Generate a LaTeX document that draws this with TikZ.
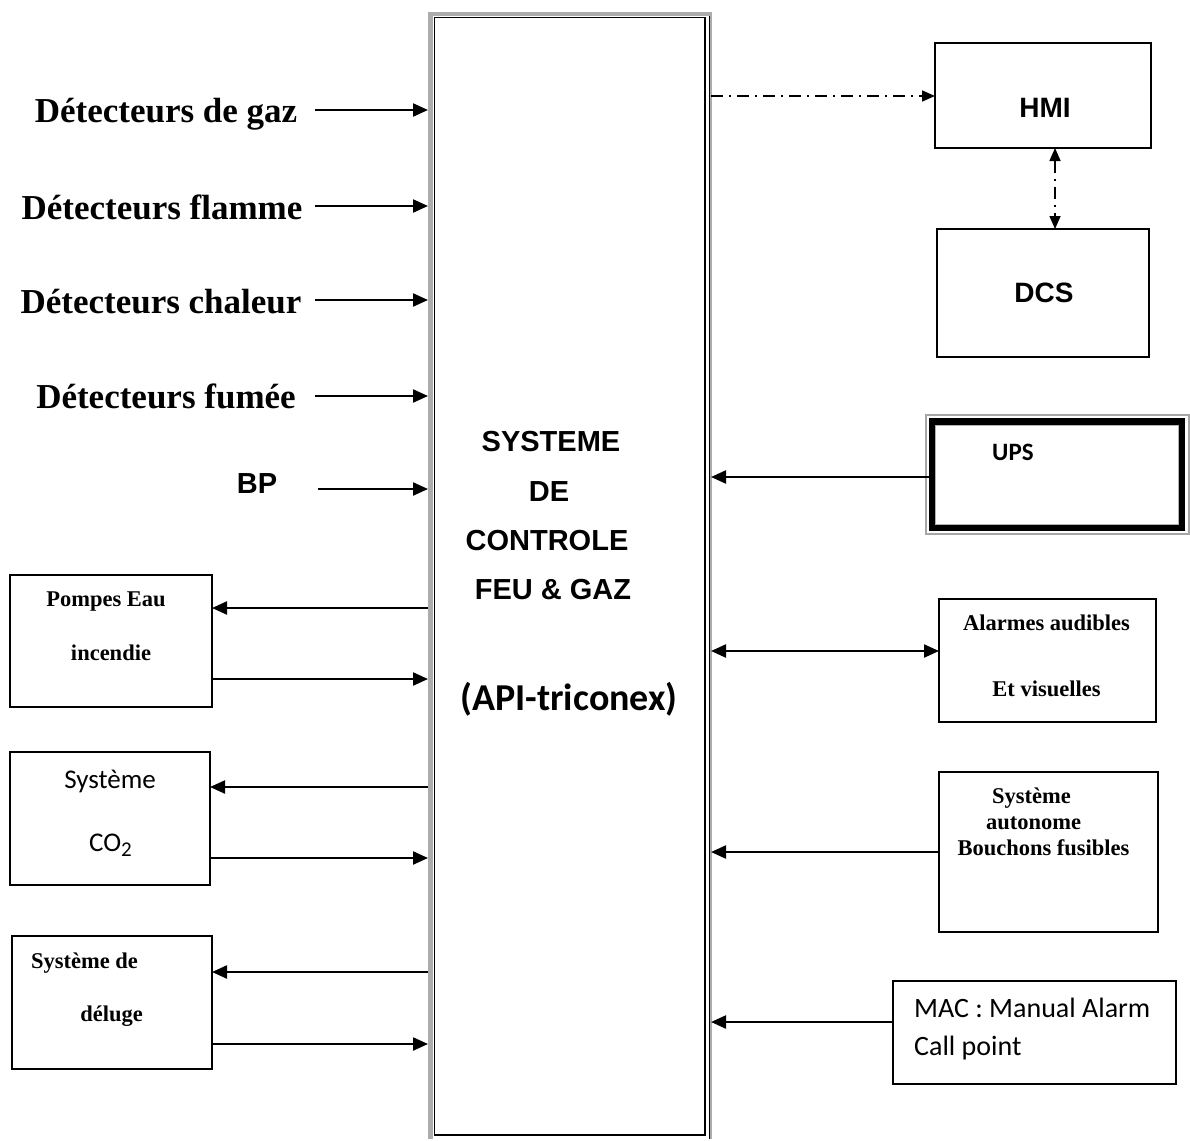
\documentclass[tikz,border=0pt]{standalone}
\usepackage{fontspec}
\setmainfont{Liberation Serif}
\newfontfamily\arialf{Liberation Sans}
\newfontfamily\calf{Carlito}
\usetikzlibrary{arrows.meta}
\begin{document}
\begin{tikzpicture}[x=1pt,y=-1pt,
  box/.style={draw=black,line width=2.2pt,anchor=north west,inner sep=0pt,outer sep=0pt},
  con/.style={line width=2.2pt,-{Triangle[length=15pt,width=13pt]}},
  dcon/.style={line width=2.2pt,{Triangle[length=15pt,width=13pt]}-{Triangle[length=15pt,width=13pt]}},
  dd/.style={line width=1.6pt,dash pattern=on 12pt off 6pt on 2pt off 6pt},
  det/.style={anchor=base,font=\bfseries\fontsize{35}{40}\selectfont},
  small/.style={anchor=base,font=\bfseries\fontsize{22.5}{26}\selectfont},
  ar/.style={anchor=base,font=\arialf\bfseries\fontsize{29}{32}\selectfont},
  cal/.style={anchor=base,font=\calf\fontsize{27}{30}\selectfont},
  txt/.style={inner sep=0pt}
]
\useasboundingbox (0,0) rectangle (1190,1140);
\fill[white] (0,0) rectangle (1190,1140);

% central controller
\node[anchor=north west,minimum width=283pt,minimum height=1127pt,inner sep=0pt,outer sep=0pt] (ctl) at (428,12) {};
\fill[gray!65] (ctl.north west) rectangle (433,1139);
\fill[gray!65] (ctl.north west) rectangle (712,16);
\fill[gray!65] (709,12) rectangle (712,1139);
\draw[line width=1.4pt] (434.5,17.5) rectangle (705,1135);
\draw[line width=1.4pt] (709.5,16) -- (709.5,1139);
\node[ar,txt] (t1) at (551,451) {SYSTEME};
\node[ar,txt] (t2) at (549,501) {DE};
\node[ar,txt] (t3) at (547,550) {CONTROLE};
\node[ar,txt] (t4) at (553,599) {FEU \& GAZ};
\node[txt,anchor=base,font=\calf\bfseries\fontsize{38}{42}\selectfont] (t5) at (569,710) {(API-triconex)};

% left detector labels
\node[det,txt] (d1) at (166,122) {Détecteurs de gaz};
\node[det,txt] (d2) at (162,219) {Détecteurs flamme};
\node[det,txt] (d3) at (161,313) {Détecteurs chaleur};
\node[det,txt] (d4) at (166,408) {Détecteurs fumée};
\node[ar,txt] (bp) at (257,493) {BP};
\coordinate (s1) at (315,110);
\coordinate (s2) at (315,206);
\coordinate (s3) at (315,300);
\coordinate (s4) at (315,396);
\coordinate (s5) at (318,489);
\foreach \s in {s1,s2,s3,s4,s5} \draw[con] (\s) -- (\s -| ctl.west);

% left boxes
\node[box,minimum width=202pt,minimum height=132pt] (pomp) at (10,575) {};
\node[small,txt] at (106,606) {Pompes Eau};
\node[small,txt] at (111,660) {incendie};
\node[box,minimum width=200pt,minimum height=133pt] (co2) at (10,752) {};
\node[cal,txt] at (110,788) {Système};
\node[cal,txt] at (110.5,851) {CO\raisebox{-5pt}{\fontsize{21}{22}\selectfont 2}};
\node[box,minimum width=200pt,minimum height=133pt] (delu) at (12,936) {};
\node[small,txt] at (84.5,968) {Système de};
\node[small,txt] at (111.7,1021) {déluge};

\coordinate (y1) at (0,608);
\coordinate (y2) at (0,679);
\coordinate (y3) at (0,787);
\coordinate (y4) at (0,858);
\coordinate (y5) at (0,972);
\coordinate (y6) at (0,1044);
\draw[con] (ctl.west |- y1) -- (pomp.east |- y1);
\draw[con] (pomp.east |- y2) -- (ctl.west |- y2);
\draw[con] (ctl.west |- y3) -- (co2.east |- y3);
\draw[con] (co2.east |- y4) -- (ctl.west |- y4);
\draw[con] (ctl.west |- y5) -- (delu.east |- y5);
\draw[con] (delu.east |- y6) -- (ctl.west |- y6);

% right boxes
\node[box,minimum width=216pt,minimum height=105pt] (hmi) at (935,43) {};
\node[ar,txt,font=\arialf\bfseries\fontsize{28}{32}\selectfont] at (1045,117) {HMI};
\node[box,minimum width=212pt,minimum height=128pt] (dcs) at (937,229) {};
\node[ar,txt,font=\arialf\bfseries\fontsize{28}{32}\selectfont] at (1044,302) {DCS};

\draw[gray!70,line width=2pt] (925.5,414.5) rectangle (1188.5,533.5);
\node[draw=black,line width=6.5pt,anchor=north west,minimum width=250pt,minimum height=106pt,inner sep=0pt,outer sep=0pt] (ups) at (932,421.5) {};
\draw[gray!60,line width=1pt] (935.5,425) rectangle (1178.5,524);
\node[txt,anchor=base west,font=\calf\bfseries\fontsize{25}{28}\selectfont] at (992,460) {UPS};

\node[box,minimum width=217pt,minimum height=123pt] (alar) at (939,599) {};
\node[small,txt] at (1046.5,630) {Alarmes audibles};
\node[small,txt] at (1046.5,696) {Et visuelles};

\node[box,minimum width=219pt,minimum height=160pt] (auto) at (939,772) {};
\node[small,txt] at (1031.5,803) {Système};
\node[small,txt] at (1033.5,829) {autonome};
\node[small,txt] at (1043.5,855) {Bouchons fusibles};

\node[box,minimum width=283pt,minimum height=103pt] (mac) at (893,981) {};
\node[cal,txt,anchor=base west,font=\calf\fontsize{28}{30}\selectfont] at (914,1017) {MAC : Manual Alarm};
\node[cal,txt,anchor=base west,font=\calf\fontsize{28}{30}\selectfont] at (914,1055) {Call point};

\coordinate (r1) at (0,96);
\coordinate (r2) at (0,477);
\coordinate (r3) at (0,651);
\coordinate (r4) at (0,852);
\coordinate (r5) at (0,1022);
\coordinate (vx) at (1055,0);
\draw[dd,-{Triangle[length=13pt,width=11pt]}] (ctl.east |- r1) -- (hmi.west |- r1);
\draw[dd,{Triangle[length=13pt,width=11pt]}-{Triangle[length=13pt,width=11pt]}] (hmi.south -| vx) -- (dcs.north -| vx);
\draw[con] (ups.west |- r2) -- (ctl.east |- r2);
\draw[dcon] (ctl.east |- r3) -- (alar.west |- r3);
\draw[con] (auto.west |- r4) -- (ctl.east |- r4);
\draw[con] (mac.west |- r5) -- (ctl.east |- r5);
\end{tikzpicture}
\end{document}
